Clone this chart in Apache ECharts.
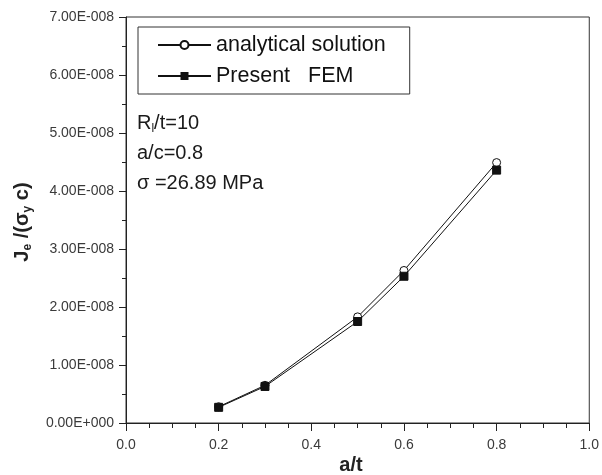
<!DOCTYPE html>
<html>
<head>
<meta charset="utf-8">
<script src="https://cdn.jsdelivr.net/npm/echarts@6/dist/echarts.min.js"></script>
<style>html,body{margin:0;padding:0;background:#fff}#c{width:602px;height:475px}</style>
</head>
<body>
<div id="c"></div>
<script>
const aOverT = [0.2, 0.3, 0.5, 0.6, 0.8];
const analytical = [2.8e-9, 6.5e-9, 1.83e-8, 2.63e-8, 4.49e-8];
const femValues = [2.7e-9, 6.3e-9, 1.75e-8, 2.53e-8, 4.36e-8];
const seriesNames = ['analytical solution', 'Present   FEM'];
const annotations = ['R{sub|l}/t=10', 'a/c=0.8', 'σ =26.89 MPa'];

function sci(v) {
  if (Math.abs(v) < 1e-20) return '0.00E+000';
  const s = v.toExponential(2);
  const parts = s.split('e');
  const e = parseInt(parts[1], 10);
  const sign = e < 0 ? '-' : '+';
  return parts[0] + 'E' + sign + String(Math.abs(e)).padStart(3, '0');
}

const chart = echarts.init(document.getElementById('c'), null, {renderer: 'canvas'});
const font = 'Liberation Sans, Arial, sans-serif';
const axisColor = '#222';

chart.setOption({
  animation: false,
  backgroundColor: '#fff',
  grid: {left: 126, right: 7, top: 17, bottom: 52, show: true, borderColor: '#333', borderWidth: 1, containLabel: false},
  legend: {
    orient: 'vertical', left: 138, top: 27,
    padding: [7, 24, 7, 19],
    itemGap: 9, itemWidth: 53, itemHeight: 10,
    borderColor: '#333', borderWidth: 1,
    textStyle: {fontFamily: font, fontSize: 21.5, color: '#111', lineHeight: 20},
    data: seriesNames
  },
  xAxis: {
    type: 'value', min: 0, max: 1, interval: 0.2,
    axisLine: {lineStyle: {color: axisColor, width: 1}},
    axisTick: {show: true, inside: false, length: 8, lineStyle: {color: axisColor}},
    minorTick: {show: true, splitNumber: 4, length: 5, lineStyle: {color: axisColor}},
    splitLine: {show: false},
    axisLabel: {fontFamily: font, fontSize: 14, color: '#3a3a3a', margin: 15, formatter: v => v.toFixed(1)}
  },
  yAxis: {
    type: 'value', min: 0, max: 7e-8, interval: 1e-8,
    axisLine: {show: true, lineStyle: {color: axisColor, width: 1}},
    axisTick: {show: true, inside: false, length: 7, lineStyle: {color: axisColor}},
    minorTick: {show: true, splitNumber: 2, length: 4, lineStyle: {color: axisColor}},
    splitLine: {show: false},
    axisLabel: {fontFamily: font, fontSize: 14, color: '#3a3a3a', margin: 12, formatter: sci}
  },
  graphic: [
    {
      type: 'text', left: 137, top: 108,
      style: {
        text: annotations.join('\n'),
        font: '20px ' + font, fill: '#1a1a1a', lineHeight: 30,
        rich: {sub: {fontSize: 12, padding: [12, 0, 0, 0], fontFamily: font, fill: '#1a1a1a'}}
      }
    },
    {
      type: 'text', x: 22, y: 222, rotation: Math.PI / 2,
      style: {
        text: 'J{sub|e} /(σ{sub|y} c)',
        font: 'bold 20px ' + font, fill: '#222',
        align: 'center', verticalAlign: 'middle',
        rich: {sub: {fontSize: 12, fontWeight: 'bold', padding: [12, 0, 0, 0], fontFamily: font, fill: '#222'}}
      }
    },
    {
      type: 'text', x: 351, y: 465,
      style: {
        text: 'a/t', font: 'bold 20px ' + font, fill: '#222',
        align: 'center', verticalAlign: 'middle'
      }
    }
  ],
  series: [
    {
      name: seriesNames[0], type: 'line', z: 2,
      data: aOverT.map((x, i) => [x, analytical[i]]),
      symbol: 'circle', symbolSize: 8,
      itemStyle: {color: '#fff', borderColor: '#111', borderWidth: 1},
      lineStyle: {color: '#111', width: 1}
    },
    {
      name: seriesNames[1], type: 'line', z: 3,
      data: aOverT.map((x, i) => [x, femValues[i]]),
      symbol: 'rect', symbolSize: 8,
      itemStyle: {color: '#111', borderColor: '#111'},
      lineStyle: {color: '#111', width: 1}
    }
  ]
});
</script>
</body>
</html>
